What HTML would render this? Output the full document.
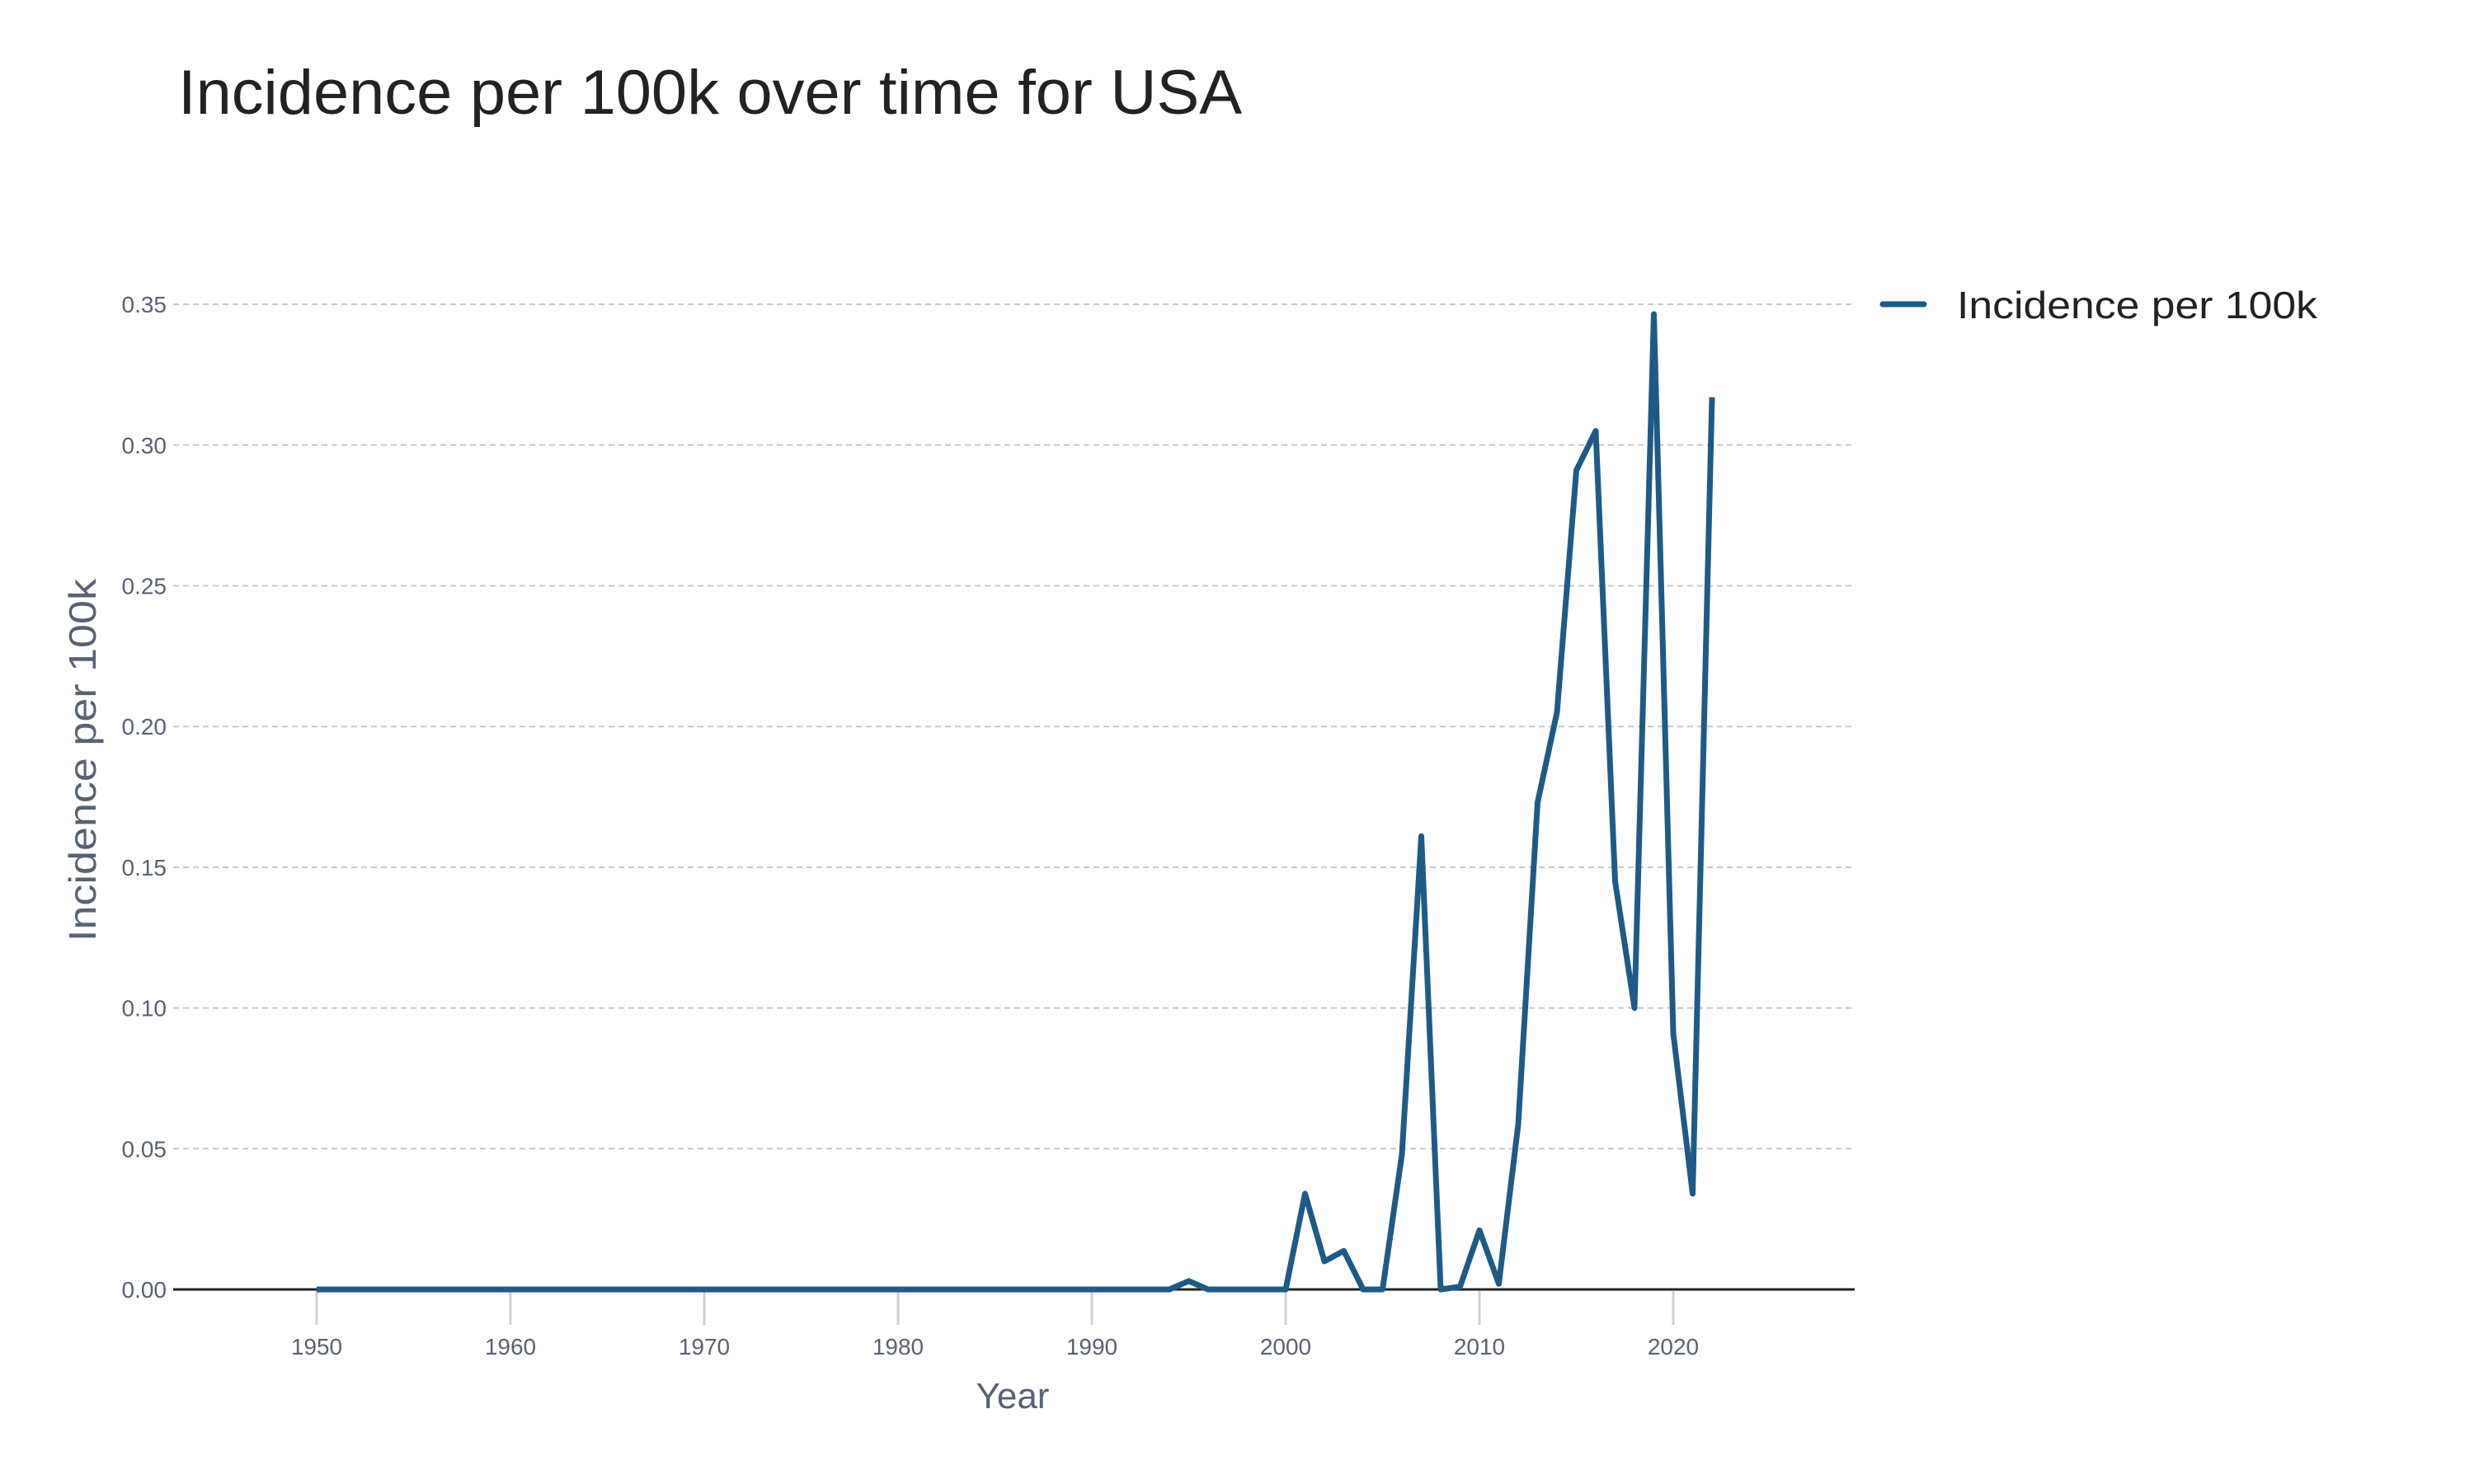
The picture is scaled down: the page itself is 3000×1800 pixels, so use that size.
<!DOCTYPE html>
<html><head><meta charset="utf-8"><style>
html,body{margin:0;padding:0;background:#fff;}
svg{display:block;font-family:"Liberation Sans","DejaVu Sans",sans-serif;}
</style></head><body>
<svg id="chart" width="3000" height="1800" viewBox="0 0 3000 1800">
<text x="216" y="138" font-size="76" fill="#222" textLength="1290" lengthAdjust="spacingAndGlyphs">Incidence per 100k over time for USA</text>
<g id="grid"></g>
<g id="yticks"></g>
<g id="xticks"></g>
<line x1="210" x2="2249" y1="1564" y2="1564" stroke="#222" stroke-width="3"/>
<path id="series" fill="none" stroke="#1f5a85" stroke-width="7" stroke-linejoin="round"/>
<text x="1228" y="1708" font-size="44" fill="#596273" text-anchor="middle">Year</text>
<text transform="translate(116,922) rotate(-90)" font-size="46" fill="#596273" text-anchor="middle" textLength="440" lengthAdjust="spacingAndGlyphs">Incidence per 100k</text>
<g>
<line x1="2283" x2="2333" y1="369" y2="369" stroke="#1f5a85" stroke-width="7" stroke-linecap="round"/>
<text x="2373" y="386" font-size="46" fill="#222" textLength="437" lengthAdjust="spacingAndGlyphs">Incidence per 100k</text>
</g>
</svg>
<script>
const years = [];
for (let y = 1950; y <= 2022; y++) years.push(y);
const lateValues = [0.034,0.010,0.0137,0,0,0.048,0.161,0,0.001,0.021,0.002,0.0586,0.173,0.205,0.291,0.305,0.145,0.100,0.3465,0.091,0.034,0.317];
const earlyValues = [0,0,0,0,0,0,0,0,0,0,0,0,0,0,0,0,0,0,0,0,0,0,0,0,0,0,0,0,0,0,0,0,0,0,0,0,0,0,0,0,0,0,0,0,0,0.003,0,0,0,0,0];
const values = earlyValues.concat(lateValues);
const yTicks = [0,0.05,0.10,0.15,0.20,0.25,0.30,0.35];
const yTickLabels = ["0.00","0.05","0.10","0.15","0.20","0.25","0.30","0.35"];
const xTicks = [1950,1960,1970,1980,1990,2000,2010,2020];

const NS = "http://www.w3.org/2000/svg";
const xs = v => 384 + (v - 1950) * 23.5;
const ys = v => 1564 - v * 3414;

const grid = document.getElementById('grid');
const yt = document.getElementById('yticks');
yTicks.forEach((t, i) => {
  if (t > 0) {
    const l = document.createElementNS(NS, 'line');
    
    
    l.setAttribute('x1', 210); l.setAttribute('x2', 2249);
    l.setAttribute('y1', ys(t)); l.setAttribute('y2', ys(t));
    l.setAttribute('stroke', '#c8c8c8'); l.setAttribute('stroke-width', '2');
    l.setAttribute('stroke-dasharray', '7,5');
    grid.appendChild(l);
  }
  const tx = document.createElementNS(NS, 'text');
  
  
  tx.setAttribute('x', 202); tx.setAttribute('y', ys(t) + 10);
  tx.setAttribute('text-anchor', 'end'); tx.setAttribute('font-size', '28');
  tx.setAttribute('fill', '#596273');
  tx.textContent = yTickLabels[i];
  yt.appendChild(tx);
});
const xt = document.getElementById('xticks');
xTicks.forEach(t => {
  const l = document.createElementNS(NS, 'line');
  
  
  l.setAttribute('x1', xs(t)); l.setAttribute('x2', xs(t));
  l.setAttribute('y1', 1566); l.setAttribute('y2', 1607);
  l.setAttribute('stroke', '#cdd0d5'); l.setAttribute('stroke-width', '3');
  xt.appendChild(l);
  const tx = document.createElementNS(NS, 'text');
  
  
  tx.setAttribute('x', xs(t)); tx.setAttribute('y', 1643);
  tx.setAttribute('text-anchor', 'middle'); tx.setAttribute('font-size', '28');
  tx.setAttribute('fill', '#596273');
  tx.textContent = t;
  xt.appendChild(tx);
});
let d = '';
years.forEach((y, i) => { d += (i ? 'L' : 'M') + xs(y).toFixed(1) + ',' + ys(values[i]).toFixed(1); });
document.getElementById('series').setAttribute('d', d);
</script>
</body></html>
